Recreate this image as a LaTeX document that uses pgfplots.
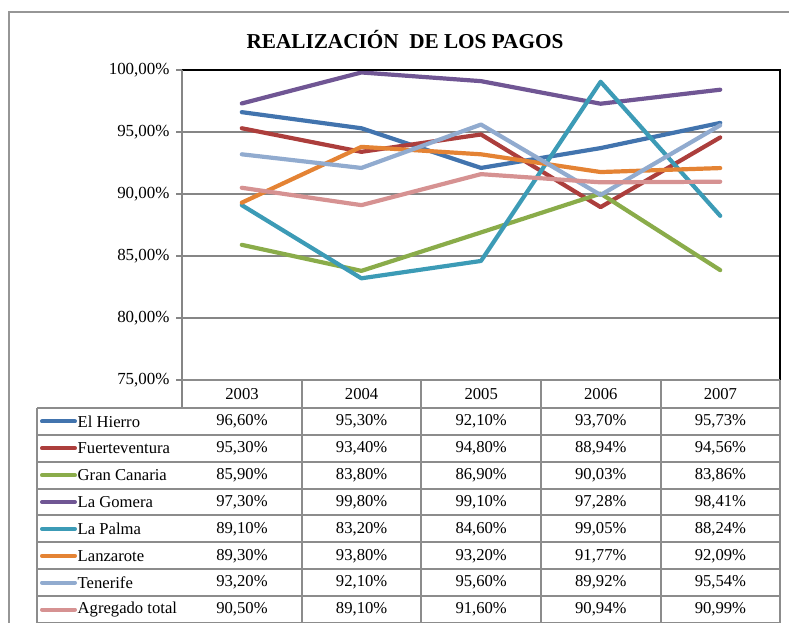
\documentclass[border=0pt]{standalone}
\usepackage{fontspec}
\setmainfont{Liberation Serif}
\usepackage{pgfplots}
\pgfplotsset{compat=1.18}
\definecolor{cHierro}{RGB}{66,116,174}
\definecolor{cFuerte}{RGB}{172,62,60}
\definecolor{cGran}{RGB}{138,172,74}
\definecolor{cGomera}{RGB}{112,86,148}
\definecolor{cPalma}{RGB}{60,155,182}
\definecolor{cLanza}{RGB}{228,131,52}
\definecolor{cTene}{RGB}{145,171,207}
\definecolor{cAgreg}{RGB}{214,146,146}
\definecolor{gridgray}{RGB}{134,134,134}
\definecolor{tabgray}{RGB}{140,140,140}
\definecolor{framegray}{RGB}{150,150,150}

\begin{document}
\begin{tikzpicture}[x=1bp,y=1bp]
\useasboundingbox (0,0) rectangle (789,623);
% outer frame
\draw[framegray,line width=1.5bp] (9,0) -- (9,611) -- (789,611);
\node[font=\fontsize{21.3}{24}\selectfont\bfseries] at (405,583) {REALIZACIÓN\ \ DE LOS PAGOS};

\begin{axis}[
    at={(182bp,243bp)}, anchor=south west,
    width=598bp, height=310bp, scale only axis,
    xmin=2002.5, xmax=2007.5, ymin=75, ymax=100,
    xtick=\empty,
    ytick={75,80,85,90,95,100},
    yticklabels={{75,00\%},{80,00\%},{85,00\%},{90,00\%},{95,00\%},{100,00\%}},
    ymajorgrids,
    grid style={gridgray,line width=1.5bp},
    axis line style={draw=none},
    ytick pos=left, tick align=outside,
    major tick length=6bp,
    ytick style={gridgray,line width=1.5bp},
    yticklabel style={font=\fontsize{17}{19}\selectfont, xshift=-3bp},
    clip=false,
    every axis plot/.append style={line width=4.2bp, line join=round, line cap=round, mark=none},
]
\addplot[cHierro] coordinates {(2003,96.60)(2004,95.30)(2005,92.10)(2006,93.70)(2007,95.73)};
\addplot[cFuerte] coordinates {(2003,95.30)(2004,93.40)(2005,94.80)(2006,88.94)(2007,94.56)};
\addplot[cGran]   coordinates {(2003,85.90)(2004,83.80)(2005,86.90)(2006,90.03)(2007,83.86)};
\addplot[cGomera] coordinates {(2003,97.30)(2004,99.80)(2005,99.10)(2006,97.28)(2007,98.41)};
\addplot[cPalma]  coordinates {(2003,89.10)(2004,83.20)(2005,84.60)(2006,99.05)(2007,88.24)};
\addplot[cLanza]  coordinates {(2003,89.30)(2004,93.80)(2005,93.20)(2006,91.77)(2007,92.09)};
\addplot[cTene]   coordinates {(2003,93.20)(2004,92.10)(2005,95.60)(2006,89.92)(2007,95.54)};
\addplot[cAgreg]  coordinates {(2003,90.50)(2004,89.10)(2005,91.60)(2006,90.94)(2007,90.99)};
\end{axis}

% plot area borders
\draw[black,line width=2bp] (182,553) -- (780,553) -- (780,243);
\draw[gridgray,line width=1.5bp] (182,553) -- (182,215);

% data table
\begin{scope}[tabgray,line width=2bp]
\draw (182,243) -- (780,243);
\foreach \xx in {302,421,541,661,780} \draw (\xx,243) -- (\xx,0);
\draw (37,215) -- (37,0);
\foreach \k in {0,...,8} \draw (37,{215-26.875*\k}) -- (780,{215-26.875*\k});
\end{scope}

\begin{scope}[font=\fontsize{16.7}{18}\selectfont]
\foreach \yr [count=\i from 0] in {2003,2004,2005,2006,2007}
  \node at ({242+119.6*\i},229) {\yr};
\foreach \nm/\cl/\va/\vb/\vc/\vd/\ve [count=\r from 0] in {
  El Hierro/cHierro/96{,}60/95{,}30/92{,}10/93{,}70/95{,}73,
  Fuerteventura/cFuerte/95{,}30/93{,}40/94{,}80/88{,}94/94{,}56,
  Gran Canaria/cGran/85{,}90/83{,}80/86{,}90/90{,}03/83{,}86,
  La Gomera/cGomera/97{,}30/99{,}80/99{,}10/97{,}28/98{,}41,
  La Palma/cPalma/89{,}10/83{,}20/84{,}60/99{,}05/88{,}24,
  Lanzarote/cLanza/89{,}30/93{,}80/93{,}20/91{,}77/92{,}09,
  Tenerife/cTene/93{,}20/92{,}10/95{,}60/89{,}92/95{,}54,
  Agregado total/cAgreg/90{,}50/89{,}10/91{,}60/90{,}94/90{,}99}
{
  \pgfmathsetmacro{\yc}{215-26.875*\r-13.44}
  \draw[\cl,line width=4bp,line cap=round] (42,\yc) -- (75,\yc);
  \node[anchor=west,inner sep=0pt] at (77.5,\yc) {\nm};
  \node at (242,\yc) {\va\%};
  \node at (361.6,\yc) {\vb\%};
  \node at (481.2,\yc) {\vc\%};
  \node at (600.8,\yc) {\vd\%};
  \node at (720.4,\yc) {\ve\%};
}
\end{scope}
\end{tikzpicture}
\end{document}
